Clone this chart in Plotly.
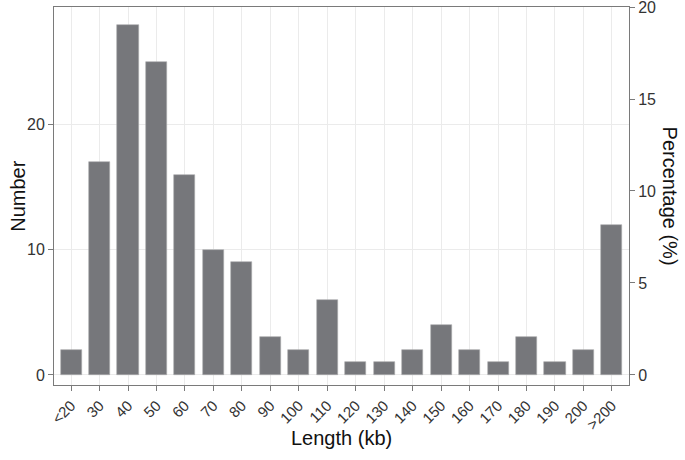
import plotly.graph_objects as go

# length bins (kb) and number of elements in each
categories = ["<20", "30", "40", "50", "60", "70", "80", "90", "100", "110",
              "120", "130", "140", "150", "160", "170", "180", "190", "200", ">200"]
counts = [2, 17, 28, 25, 16, 10, 9, 3, 2, 6, 1, 1, 2, 4, 2, 1, 3, 1, 2, 12]

total = sum(counts)
pct_top = 20.0                # 20 % sits at the top of the panel
y_top = total * pct_top / 100
y_bot = -0.8

FONT = "Liberation Sans, Arial, sans-serif"
FRAME = "#7a7a7a"
GRID = "#ebebeb"
TICKC = "#333333"
TITLEC = "#111111"

fig = go.Figure()
fig.add_trace(go.Bar(
    x=categories, y=counts,
    width=0.74,
    marker=dict(color="#76777b", line=dict(color="#a9aaad", width=0.6)),
    showlegend=False,
))
# invisible trace so the secondary (percentage) axis is drawn
fig.add_trace(go.Scatter(
    x=categories, y=[c / total * 100 for c in counts],
    yaxis="y2", mode="markers", marker=dict(opacity=0),
    hoverinfo="skip", showlegend=False,
))

fig.update_layout(
    width=685, height=460,
    margin=dict(l=54, r=56, t=7, b=75, autoexpand=False),
    plot_bgcolor="white", paper_bgcolor="white",
    font=dict(family=FONT, size=16, color=TICKC),
    bargap=0,
    xaxis=dict(
        type="category", range=[-0.6, 19.6], automargin=False,
        tickangle=-45, tickfont=dict(size=15, color=TICKC),
        ticks="outside", ticklen=5, tickcolor=FRAME,
        showgrid=True, gridcolor=GRID, gridwidth=1,
        showline=True, linecolor=FRAME, linewidth=1, mirror=True,
    ),
    yaxis=dict(
        range=[y_bot, y_top], tickvals=[0, 10, 20], automargin=False,
        tickfont=dict(size=16, color=TICKC),
        ticks="outside", ticklen=5, tickcolor=FRAME,
        showgrid=True, gridcolor=GRID, gridwidth=1, zeroline=False,
        showline=True, linecolor=FRAME, linewidth=1, mirror=True,
    ),
    yaxis2=dict(
        overlaying="y", side="right", automargin=False, anchor="x",
        range=[y_bot / total * 100, pct_top + 1e-6], tickmode="array",
        tickvals=[0, 5, 10, 15, 20], ticklabeloverflow="allow",
        tickfont=dict(size=16, color=TICKC),
        ticks="outside", ticklen=5, tickcolor=FRAME,
        showgrid=False, zeroline=False, showline=False,
    ),
    annotations=[
        dict(text="Length (kb)", xref="paper", yref="paper", x=0.5, y=-0.139,
             xanchor="center", yanchor="middle", showarrow=False,
             font=dict(size=20, color=TITLEC)),
        dict(text="Number", textangle=-90, xref="paper", yref="paper",
             x=-0.063, y=0.5, xanchor="center", yanchor="middle", showarrow=False,
             font=dict(size=20, color=TITLEC)),
        dict(text="Percentage (%)", textangle=90, xref="paper", yref="paper",
             x=1.072, y=0.5, xanchor="center", yanchor="middle", showarrow=False,
             font=dict(size=20, color=TITLEC)),
    ],
)

fig.write_html("out.html", config={"displayModeBar": False},
               post_script="document.body.style.margin='0';")
